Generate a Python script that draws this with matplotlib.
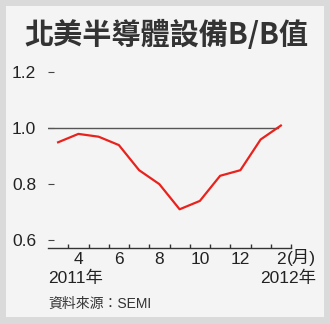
import numpy as np
import matplotlib.pyplot as plt
from matplotlib.patches import Rectangle

# B/B ratio, Mar 2011 .. Feb 2012 (month 13, 14 = Jan, Feb 2012)
months = [3, 4, 5, 6, 7, 8, 9, 10, 11, 12, 13, 14]
bb_ratio = [0.95, 0.98, 0.97, 0.94, 0.85, 0.80, 0.71, 0.74, 0.83, 0.85, 0.96, 1.01]
label_months = [4, 6, 8, 10, 12, 14]
label_text = ["4", "6", "8", "10", "12", "2"]
y_ticks = [0.6, 0.8, 1.0, 1.2]
y_labels = ["0.6", "0.8", "1.0", "1.2"]
ref_level = 1.0

W, H = 330, 324
fam = ["Liberation Sans", "Noto Sans CJK TC", "DejaVu Sans"]
plt.rcParams["font.family"] = fam

fig = plt.figure(figsize=(W / 100, H / 100), dpi=100, facecolor="#dadada")
fig.patches.append(Rectangle((6 / W, 7 / H), 318 / W, 311 / H, transform=fig.transFigure,
                             facecolor="#f4f4f4", edgecolor="none", zorder=-1))

ax = fig.add_axes([48 / W, 76.3 / H, 243 / W, 180.4 / H])
ax.set_facecolor("none")
ax.set_xlim(2.5, 14.5)
ax.set_ylim(0.5724, 1.2186)

ax.plot(months, bb_ratio, color="#e8221c", lw=1.6, zorder=3, solid_joinstyle="round")
ax.plot([2.5, 13.85], [ref_level, ref_level], color="#555555", lw=1.0, zorder=2)

for s in ["top", "right", "left"]:
    ax.spines[s].set_visible(False)
ax.spines["bottom"].set_color("#333333")
ax.spines["bottom"].set_linewidth(1.0)

# boundary ticks between months, labels at month centres
ax.set_xticks(np.arange(3.5, 15, 1.0))
ax.set_xticklabels([])
ax.tick_params(axis="x", which="major", direction="in", length=3, width=1, color="#333333")
ax.set_xticks(label_months, minor=True)
ax.set_xticklabels(label_text, minor=True)
ax.tick_params(axis="x", which="minor", length=0, pad=3, labelsize=12.5, labelcolor="#222222")

ax.set_yticks(y_ticks)
ax.set_yticklabels(y_labels)
ax.tick_params(axis="y", direction="in", length=4, width=0.8, color="#444444",
               pad=8.6, labelsize=12.5, labelcolor="#222222")

fig.text(287 / W, 1 - 258 / H, "(月)", fontsize=12.5, color="#222222", ha="left", va="center")
fig.text(166 / W, 1 - 35 / H, "北美半導體設備B/B值", fontsize=21, fontweight="heavy",
         color="#333333", ha="center", va="center", family=["Noto Sans CJK TC", "DejaVu Sans"])
fig.text(48 / W, 1 - 278 / H, "2011年", fontsize=12.5, color="#222222", ha="left", va="center")
fig.text(316 / W, 1 - 278 / H, "2012年", fontsize=12.5, color="#222222", ha="right", va="center")
fig.text(48 / W, 1 - 304 / H, "資料來源：SEMI", fontsize=10, color="#333333", ha="left", va="center")

fig.savefig("out.png", dpi=100, facecolor=fig.get_facecolor())
